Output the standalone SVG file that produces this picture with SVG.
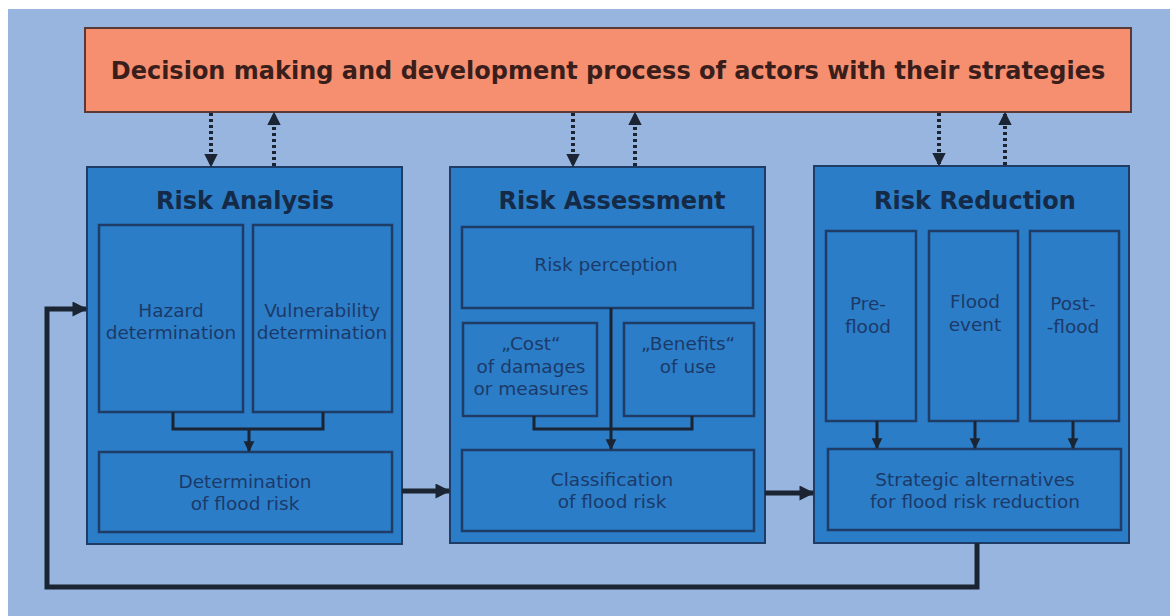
<svg xmlns="http://www.w3.org/2000/svg" width="1170" height="616" viewBox="0 0 1170 616">
  <defs>
    <marker id="solidHead" viewBox="0 0 10 10" refX="9" refY="5" markerWidth="3.2" markerHeight="3" markerUnits="strokeWidth" orient="auto">
      <path d="M0,0 L10,5 L0,10 z" fill="#1b2433"/>
    </marker>
    <marker id="smallHead" viewBox="0 0 10 10" refX="9" refY="5" markerWidth="3.6" markerHeight="3.8" markerUnits="strokeWidth" orient="auto">
      <path d="M0,0 L10,5 L0,10 z" fill="#1b2433"/>
    </marker>
    <marker id="dotHead" viewBox="0 0 10 10" refX="9" refY="5" markerWidth="3.4" markerHeight="3.5" markerUnits="strokeWidth" orient="auto">
      <path d="M0,0 L10,5 L0,10 z" fill="#1b2433"/>
    </marker>
  </defs>
  <style>
    .bg { fill: #97b5de; }
    .banner { fill: #f68f6f; stroke: #5a3a38; stroke-width: 2; }
    .stage { fill: #2b7dc8; stroke: #1f3c66; stroke-width: 2; }
    .inner { fill: #2b7dc8; stroke: #1f3c66; stroke-width: 2.5; }
    .banner-text { font-family: "DejaVu Sans", Verdana, sans-serif; font-weight: bold; font-size: 24px; fill: #3a1e1c; text-anchor: middle; }
    .stage-title { font-family: "DejaVu Sans", Verdana, sans-serif; font-weight: bold; font-size: 24px; fill: #152a47; text-anchor: middle; }
    .label { font-family: "DejaVu Sans", Verdana, sans-serif; font-size: 18.5px; fill: #1c3a68; text-anchor: middle; }
    .flow { fill: none; stroke: #1b2433; stroke-width: 5; }
    .link { fill: none; stroke: #1b2433; stroke-width: 3; }
    .dotted { fill: none; stroke: #1b2433; stroke-width: 4; stroke-dasharray: 3 3; }
  </style>

  <!-- backdrop panel -->
  <rect class="bg" x="8" y="9" width="1162" height="607"/>

  <!-- top banner -->
  <g id="decision-process">
    <rect class="banner" x="85" y="28" width="1046" height="84"/>
    <text class="banner-text" x="608" y="79">Decision making and development process of actors with their strategies</text>
  </g>

  <!-- stage 1 -->
  <g id="risk-analysis">
    <rect class="stage" x="87" y="167" width="315" height="377"/>
    <text class="stage-title" x="245" y="209">Risk Analysis</text>
  </g>
  <g id="hazard-determination">
    <rect class="inner" x="99" y="225" width="144" height="187"/>
    <text class="label" x="171" y="317">Hazard</text>
    <text class="label" x="171" y="339">determination</text>
  </g>
  <g id="vulnerability-determination">
    <rect class="inner" x="253" y="225" width="139" height="187"/>
    <text class="label" x="322" y="317">Vulnerability</text>
    <text class="label" x="322" y="339">determination</text>
  </g>
  <g id="determination-flood-risk">
    <rect class="inner" x="99" y="452" width="293" height="80"/>
    <text class="label" x="245" y="488">Determination</text>
    <text class="label" x="245" y="510">of flood risk</text>
  </g>

  <!-- stage 2 -->
  <g id="risk-assessment">
    <rect class="stage" x="450" y="167" width="315" height="376"/>
    <text class="stage-title" x="612" y="209">Risk Assessment</text>
  </g>
  <g id="risk-perception">
    <rect class="inner" x="462" y="227" width="291" height="81"/>
    <text class="label" x="606" y="271">Risk perception</text>
  </g>
  <g id="cost">
    <rect class="inner" x="463" y="323" width="134" height="93"/>
    <text class="label" x="531" y="350">„Cost“</text>
    <text class="label" x="531" y="373">of damages</text>
    <text class="label" x="531" y="395">or measures</text>
  </g>
  <g id="benefits">
    <rect class="inner" x="624" y="323" width="130" height="93"/>
    <text class="label" x="688" y="350">„Benefits“</text>
    <text class="label" x="688" y="373">of use</text>
  </g>
  <g id="classification-flood-risk">
    <rect class="inner" x="462" y="450" width="292" height="81"/>
    <text class="label" x="612" y="486">Classification</text>
    <text class="label" x="612" y="508">of flood risk</text>
  </g>

  <!-- stage 3 -->
  <g id="risk-reduction">
    <rect class="stage" x="814" y="166" width="315" height="377"/>
    <text class="stage-title" x="975" y="209">Risk Reduction</text>
  </g>
  <g id="pre-flood">
    <rect class="inner" x="826" y="231" width="90" height="190"/>
    <text class="label" x="868" y="310">Pre-</text>
    <text class="label" x="868" y="333">flood</text>
  </g>
  <g id="flood-event">
    <rect class="inner" x="929" y="231" width="89" height="190"/>
    <text class="label" x="975" y="308">Flood</text>
    <text class="label" x="975" y="331">event</text>
  </g>
  <g id="post-flood">
    <rect class="inner" x="1030" y="231" width="89" height="190"/>
    <text class="label" x="1073" y="310">Post-</text>
    <text class="label" x="1073" y="333">-flood</text>
  </g>
  <g id="strategic-alternatives">
    <rect class="inner" x="828" y="449" width="293" height="81"/>
    <text class="label" x="975" y="486">Strategic alternatives</text>
    <text class="label" x="975" y="508">for flood risk reduction</text>
  </g>

  <!-- connectors -->
  <g id="connectors">
    <!-- exchange with the decision process -->
    <path class="dotted" d="M211,113 V166" marker-end="url(#dotHead)"/>
    <path class="dotted" d="M274,166 V113" marker-end="url(#dotHead)"/>
    <path class="dotted" d="M573,113 V166" marker-end="url(#dotHead)"/>
    <path class="dotted" d="M635,166 V113" marker-end="url(#dotHead)"/>
    <path class="dotted" d="M939,113 V165" marker-end="url(#dotHead)"/>
    <path class="dotted" d="M1005,165 V113" marker-end="url(#dotHead)"/>

    <!-- within risk analysis -->
    <path class="link" d="M173,412 V429 H323 V412"/>
    <path class="link" d="M249,429 V451" marker-end="url(#smallHead)"/>

    <!-- within risk assessment -->
    <path class="link" d="M534,416 V429 H692 V416"/>
    <path class="link" d="M611,308 V449" marker-end="url(#smallHead)"/>

    <!-- within risk reduction -->
    <path class="link" d="M877,421 V448" marker-end="url(#smallHead)"/>
    <path class="link" d="M975,421 V448" marker-end="url(#smallHead)"/>
    <path class="link" d="M1073,421 V448" marker-end="url(#smallHead)"/>

    <!-- stage to stage -->
    <path class="flow" d="M402,491 H449" marker-end="url(#solidHead)"/>
    <path class="flow" d="M765,493 H813" marker-end="url(#solidHead)"/>

    <!-- feedback loop -->
    <path class="flow" d="M977,543 V587 H47 V309 H86" marker-end="url(#solidHead)"/>
  </g>
</svg>
